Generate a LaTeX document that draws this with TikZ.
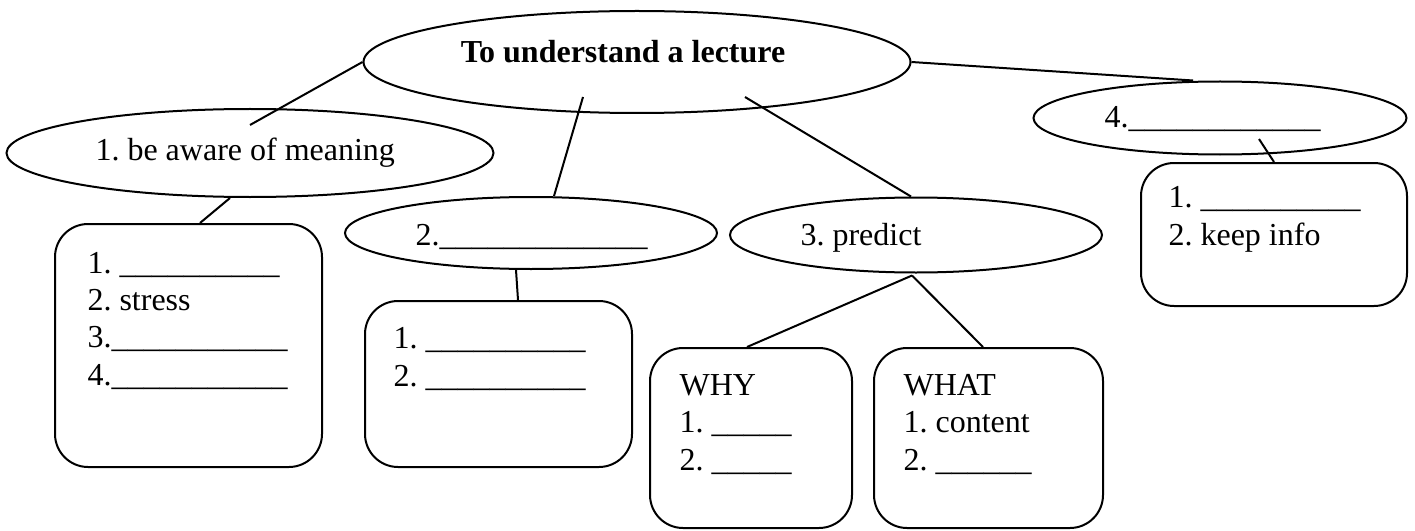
\documentclass[tikz,border=0pt]{standalone}
\usepackage{fontspec}
\setmainfont{Liberation Serif}
\usetikzlibrary{shapes.geometric,calc}
\newcommand\pxu{0.375pt}
\frenchspacing
\begin{document}
\begin{tikzpicture}[x=0.375pt,y=-0.375pt,
  oval/.style={draw, ellipse, inner sep=0pt, line width=0.75pt},
  rbox/.style={draw, rounded corners=12.4pt, inner sep=0pt, line width=0.75pt},
  txt/.style={inner sep=0pt, anchor=base west, align=left, font=\fontsize{12}{13.9}\selectfont},
  link/.style={line width=0.75pt}]
\path[use as bounding box] (0,0) rectangle (1415,531);
% ellipses
\node[oval, minimum width=547*\pxu, minimum height=102*\pxu] (main) at (637,62) {};
\node[oval, minimum width=487*\pxu, minimum height=88*\pxu] (ell1) at (250,153) {};
\node[oval, minimum width=372*\pxu, minimum height=72*\pxu] (ell2) at (531,233) {};
\node[oval, minimum width=372*\pxu, minimum height=75*\pxu] (ell3) at (916,235) {};
\node[oval, minimum width=373*\pxu, minimum height=73*\pxu] (ell4) at (1220,118) {};
% boxes
\node[rbox, minimum width=267*\pxu, minimum height=243*\pxu] (box1) at (188.5,345.5) {};
\node[rbox, minimum width=267*\pxu, minimum height=166*\pxu] (box2) at (498.5,384) {};
\node[rbox, minimum width=202*\pxu, minimum height=180*\pxu] (why) at (751,438) {};
\node[rbox, minimum width=229*\pxu, minimum height=180*\pxu] (what) at (988.5,438) {};
\node[rbox, minimum width=266*\pxu, minimum height=143*\pxu] (box4) at (1274,234.5) {};
% texts (multi-line texts are placed by the baseline of their last line)
\node[txt, anchor=base, font=\fontsize{12}{13.9}\selectfont\bfseries] (tmain) at (623,63) {To understand a lecture};
\node[txt] (t1) at (95,160) {1. be aware of meaning};
\node[txt] (t2) at (415,245) {2.\_\_\_\_\_\_\_\_\_\_\_\_\_};
\node[txt] (t3) at (800,245) {3. predict};
\node[txt] (t4) at (1104,128) {4.\_\_\_\_\_\_\_\_\_\_\_\_};
\node[txt] (tb1) at (87,385) {1. \_\_\_\_\_\_\_\_\_\_\\2. stress\\3.\_\_\_\_\_\_\_\_\_\_\_\\4.\_\_\_\_\_\_\_\_\_\_\_};
\node[txt] (tb2) at (393,386) {1. \_\_\_\_\_\_\_\_\_\_\\2. \_\_\_\_\_\_\_\_\_\_};
\node[txt] (twhy) at (679,470) {WHY\\1. \_\_\_\_\_\\2. \_\_\_\_\_};
\node[txt] (twhat) at (903,470) {WHAT\\1. content\\2. \_\_\_\_\_\_};
\node[txt] (tb4) at (1168,245) {1. \_\_\_\_\_\_\_\_\_\_\\2. keep info};
% free ends inside shapes
\coordinate (m1) at (250,125);
\coordinate (m2) at (583,97);
\coordinate (m3) at (745,97);
\coordinate (m4) at (1259,139);
% connectors
\draw[link] (main.west) -- (m1);
\draw[link] ($(ell1.south)+(-20,0)$) -- ($(box1.north)+(11.5,0)$);
\draw[link] (m2) -- ($(ell2.north)+(23,0)$);
\draw[link] (m3) -- ($(ell3.north)+(-5,0)$);
\draw[link] (main.east) -- ($(ell4.north)+(-27,0)$);
\draw[link] ($(ell2.south)+(-15,0)$) -- ($(box2.north)+(19.5,0)$);
\draw[link] ($(ell3.south)+(-4,2)$) -- ($(why.north)+(-4,0)$);
\draw[link] ($(ell3.south)+(-4,2)$) -- ($(what.north)+(-5.5,0)$);
\draw[link] (m4) -- (box4.north);
\end{tikzpicture}
\end{document}
